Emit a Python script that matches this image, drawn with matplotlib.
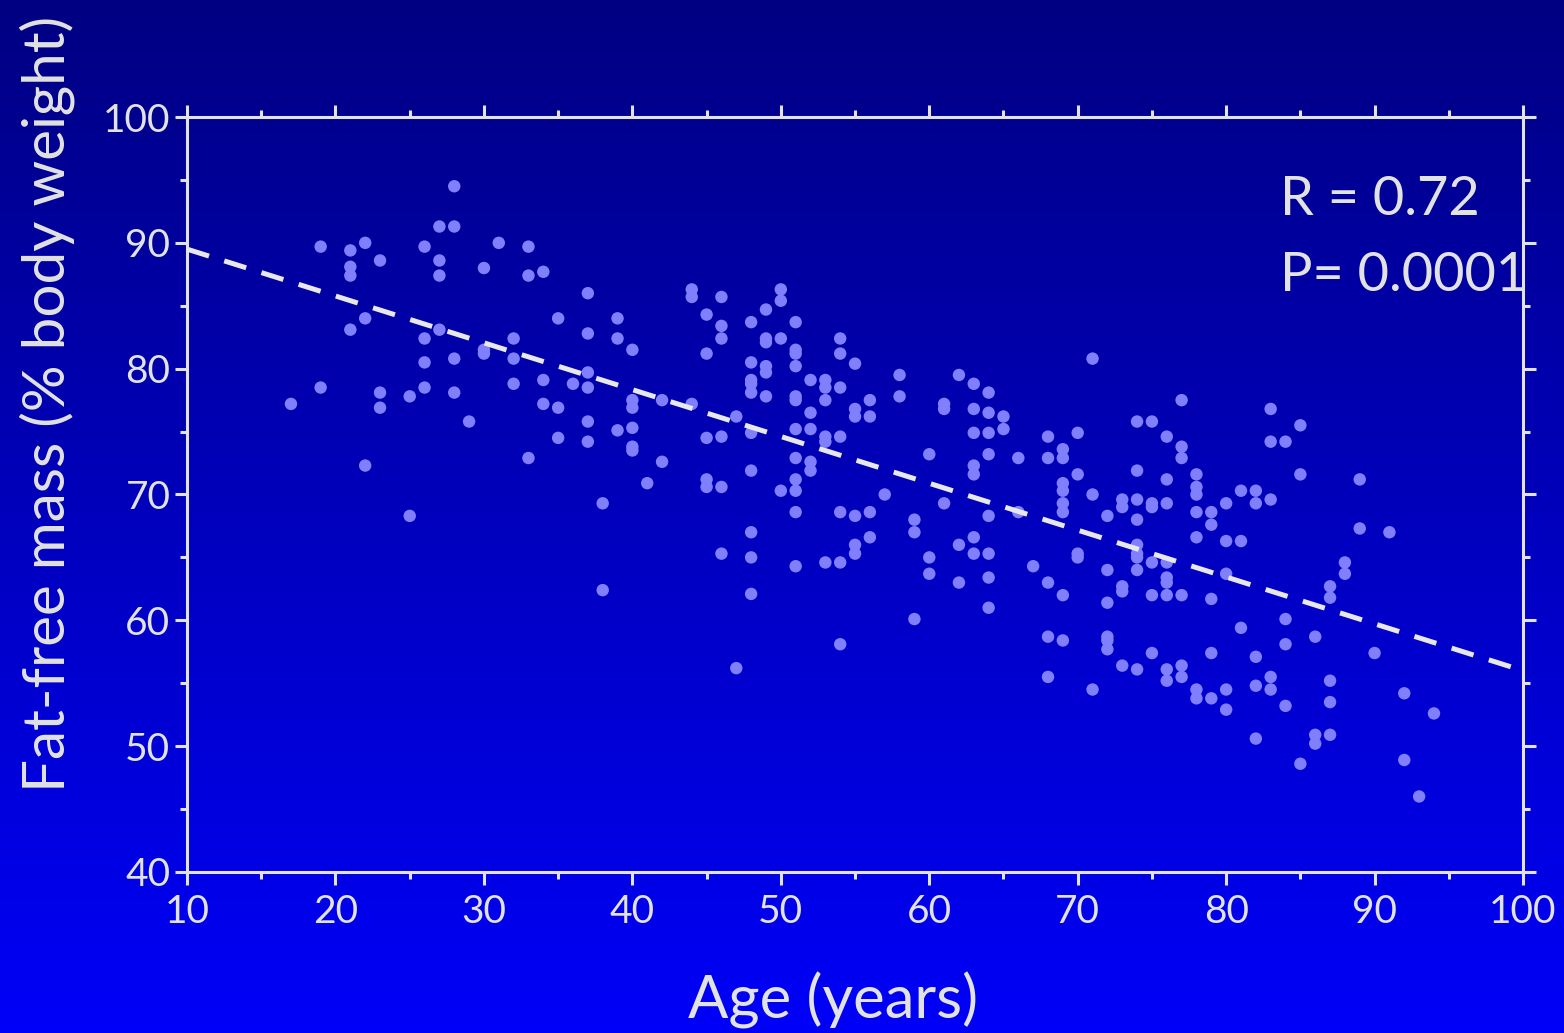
import numpy as np
import matplotlib
matplotlib.use('Agg')
import matplotlib.pyplot as plt
from matplotlib.colors import LinearSegmentedColormap

# age (years) of each subject
ages = [17, 19, 19, 21, 21, 21, 21, 22, 22, 22, 23, 23, 23, 25, 25,
        26, 26, 26, 26, 27, 27, 27, 27, 28, 28, 28, 28, 29, 30, 30, 30, 31,
        32, 32, 32, 33, 33, 33, 34, 34, 34, 35, 35, 35, 36,
        37, 37, 37, 37, 37, 37, 38, 38, 39, 39, 39,
        40, 40, 40, 40, 40, 40, 41, 42, 42, 44, 44, 44,
        45, 45, 45, 45, 45, 46, 46, 46, 46, 46, 46, 47, 47,
        48, 48, 48, 48, 48, 48, 48, 48, 48, 48,
        49, 49, 49, 49, 49, 49, 50, 50, 50, 50,
        51, 51, 51, 51, 51, 51, 51, 51, 51, 51, 51, 51,
        52, 52, 52, 52, 52, 53, 53, 53, 53, 53, 53,
        54, 54, 54, 54, 54, 54, 54, 55, 55, 55, 55, 55, 55,
        56, 56, 56, 56, 57, 58, 58, 59, 59, 59, 60, 60, 60,
        61, 61, 61, 62, 62, 62, 63, 63, 63, 63, 63, 63, 63,
        64, 64, 64, 64, 64, 64, 64, 64, 65, 65, 66, 66, 67,
        68, 68, 68, 68, 68, 69, 69, 69, 69, 69, 69, 69, 69,
        70, 70, 70, 70, 71, 71, 71, 72, 72, 72, 72, 72, 72,
        73, 73, 73, 73, 73, 74, 74, 74, 74, 74, 74, 74, 74, 74,
        75, 75, 75, 75, 75, 75, 76, 76, 76, 76, 76, 76, 76, 76, 76,
        77, 77, 77, 77, 77, 77, 78, 78, 78, 78, 78, 78, 78,
        79, 79, 79, 79, 79, 80, 80, 80, 80, 80, 81, 81, 81,
        82, 82, 82, 82, 82, 83, 83, 83, 83, 83, 84, 84, 84, 84,
        85, 85, 85, 86, 86, 86, 87, 87, 87, 87, 87, 88, 88,
        89, 89, 90, 91, 92, 92, 93, 94]

# fat-free mass (% body weight) of each subject
fat_free = [77.2, 89.7, 78.5, 89.4, 88.1, 87.4, 83.1, 90.0, 84.0, 72.3, 88.6, 78.1, 76.9, 77.8, 68.3,
            89.7, 82.4, 80.5, 78.5, 91.3, 88.6, 87.4, 83.1, 94.5, 91.3, 80.8, 78.1, 75.8, 88.0, 81.5, 81.2, 90.0,
            82.4, 80.8, 78.8, 89.7, 87.4, 72.9, 87.7, 79.1, 77.2, 84.0, 76.9, 74.5, 78.8,
            86.0, 82.8, 79.7, 78.5, 75.8, 74.2, 69.3, 62.4, 84.0, 82.4, 75.1,
            81.5, 77.5, 76.9, 75.3, 73.8, 73.5, 70.9, 77.5, 72.6, 86.3, 85.7, 77.2,
            84.3, 81.2, 74.5, 71.2, 70.6, 85.7, 83.4, 82.4, 74.6, 70.6, 65.3, 76.2, 56.2,
            83.7, 80.5, 79.1, 78.8, 78.1, 74.9, 71.9, 67.0, 65.0, 62.1,
            84.7, 82.4, 82.1, 80.2, 79.7, 77.8, 86.3, 85.4, 82.4, 70.3,
            83.7, 81.5, 81.2, 80.2, 77.8, 77.5, 75.2, 72.9, 71.2, 70.3, 68.6, 64.3,
            79.1, 76.5, 75.2, 72.6, 71.9, 79.1, 78.5, 77.5, 74.6, 74.2, 64.6,
            82.4, 81.2, 78.5, 74.6, 68.6, 64.6, 58.1, 80.4, 76.8, 76.2, 68.3, 66.0, 65.3,
            77.5, 76.2, 68.6, 66.6, 70.0, 79.5, 77.8, 68.0, 67.0, 60.1, 73.2, 65.0, 63.7,
            77.2, 76.8, 69.3, 79.5, 66.0, 63.0, 78.8, 76.8, 74.9, 72.3, 71.6, 66.6, 65.3,
            78.1, 76.5, 74.9, 73.2, 68.3, 65.3, 63.4, 61.0, 76.2, 75.2, 72.9, 68.6, 64.3,
            74.6, 72.9, 63.0, 58.7, 55.5, 73.6, 72.9, 70.9, 70.3, 69.3, 68.6, 62.0, 58.4,
            74.9, 71.6, 65.3, 65.0, 80.8, 70.0, 54.5, 68.3, 64.0, 61.4, 58.7, 58.4, 57.7,
            69.6, 69.0, 62.7, 62.3, 56.4, 75.8, 71.9, 69.6, 68.0, 66.0, 65.3, 65.0, 64.0, 56.1,
            75.8, 69.3, 69.0, 64.6, 62.0, 57.4, 74.6, 71.2, 69.3, 64.6, 63.4, 63.0, 62.0, 56.1, 55.2,
            77.5, 73.8, 72.9, 62.0, 56.4, 55.5, 71.6, 70.6, 70.0, 68.6, 66.6, 54.5, 53.8,
            68.6, 67.6, 61.7, 57.4, 53.8, 69.3, 66.3, 63.7, 54.5, 52.9, 70.3, 66.3, 59.4,
            70.3, 69.3, 57.1, 54.8, 50.6, 76.8, 74.2, 69.6, 55.5, 54.5, 74.2, 60.1, 58.1, 53.2,
            75.5, 71.6, 48.6, 58.7, 50.9, 50.2, 62.7, 61.8, 55.2, 53.5, 50.9, 64.6, 63.7,
            71.2, 67.3, 57.4, 67.0, 54.2, 48.9, 46.0, 52.6]

# regression line end points
fit_x = [10, 100]
fit_y = [89.5, 56.0]

stats_lines = ['R = 0.72', 'P= 0.0001']

fg = '#e2e2e2'
plt.rcParams['font.family'] = ['Lato', 'DejaVu Sans']

fig = plt.figure(figsize=(15.64, 10.33), dpi=100)

# blue gradient background
bg = fig.add_axes([0, 0, 1, 1])
grad_cmap = LinearSegmentedColormap.from_list('bg', ['#000082', '#0000f8'])
bg.imshow(np.linspace(0, 1, 256).reshape(-1, 1), aspect='auto', cmap=grad_cmap,
          extent=[0, 1, 0, 1])
bg.set_axis_off()

ax = fig.add_axes([0.1196, 0.1559, 0.8542, 0.7308])
ax.set_facecolor('none')

ax.scatter(ages, fat_free, s=80, color='#8080ff', edgecolors='none', zorder=3)
ax.plot(fit_x, fit_y, color='#e8e8e8', lw=3.6, dashes=(4.6, 3.2), zorder=4)

ax.set_xlim(10, 100)
ax.set_ylim(40, 100)
ax.set_xticks(np.arange(10, 101, 10))
ax.set_xticks(np.arange(15, 100, 10), minor=True)
ax.set_yticks(np.arange(40, 101, 10))
ax.set_yticks(np.arange(45, 100, 10), minor=True)

for sp in ax.spines.values():
    sp.set_color(fg)
    sp.set_linewidth(2.2)

ax.tick_params(which='both', direction='out', colors=fg, width=2.2,
               top=True, right=True, labelsize=28)
ax.tick_params(which='major', length=9)
ax.tick_params(which='minor', length=5)
ax.tick_params(axis='x', which='major', pad=7)
ax.tick_params(axis='y', which='major', pad=3)

ax.set_xlabel('Age (years)', fontsize=43, color=fg)
ax.xaxis.set_label_coords(0.4835, -0.132)
ax.set_ylabel('Fat-free mass (% body weight)', fontsize=42, color=fg)
ax.yaxis.set_label_coords(-0.084, 0.62)

ax.text(83.6, 92.2, stats_lines[0], fontsize=39, color=fg, va='baseline',
        clip_on=False, zorder=5)
ax.text(83.6, 86.2, stats_lines[1], fontsize=39, color=fg, va='baseline',
        clip_on=False, zorder=5)

fig.savefig('out.png', dpi=100)
